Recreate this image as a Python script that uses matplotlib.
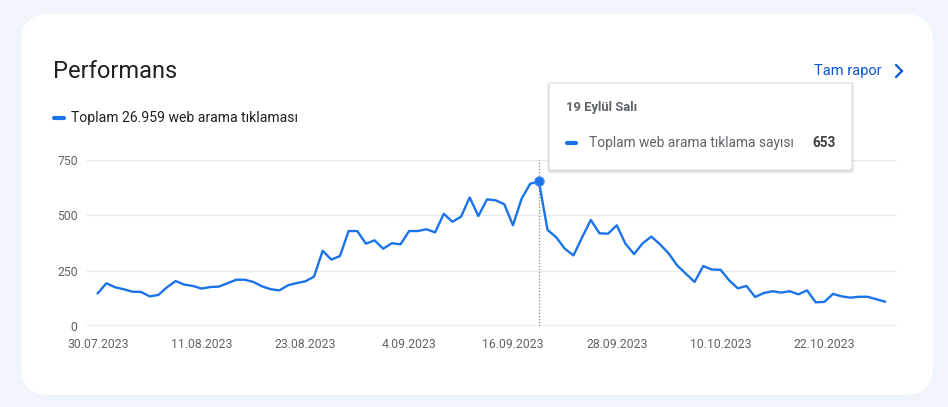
import matplotlib
matplotlib.use("Agg")
import matplotlib.pyplot as plt
from matplotlib.patches import FancyBboxPatch
import numpy as np

# ---- data ----
clicks = [148, 193, 175, 166, 155, 154, 134, 140, 175, 203,
          187, 181, 169, 176, 178, 193, 209, 209, 199, 179,
          166, 161, 184, 194, 202, 223, 340, 300, 316, 429,
          429, 372, 387, 349, 374, 369, 429, 429, 437, 423,
          507, 471, 494, 581, 497, 572, 568, 550, 455, 575,
          643, 653, 434, 401, 349, 319, 401, 479, 419, 417,
          455, 372, 325, 374, 404, 369, 328, 273, 236, 199,
          271, 255, 254, 206, 170, 181, 131, 149, 157, 151,
          157, 143, 161, 107, 109, 145, 134, 128, 132, 132,
          121, 110]
tick_pos = [0, 12, 24, 36, 48, 60, 72, 84]
tick_labels = ["30.07.2023", "11.08.2023", "23.08.2023", "4.09.2023",
               "16.09.2023", "28.09.2023", "10.10.2023", "22.10.2023"]
y_ticks = [0, 250, 500, 750]
title = "Performans"
legend_label = "Toplam 26.959 web arama tıklaması"
hover_index = 51
hover_date = "19 Eylül Salı"
hover_series = "Toplam web arama tıklama sayısı"

W, H = 948, 407
BLUE = "#1a73e8"
plt.rcParams['font.family'] = ['Roboto', 'DejaVu Sans']

fig = plt.figure(figsize=(W / 100, H / 100), dpi=100, facecolor="#f0f4fb")

# background pixel-space axes
bg = fig.add_axes([0, 0, 1, 1], zorder=0)
bg.set_xlim(0, W); bg.set_ylim(H, 0); bg.axis("off")
bg.add_patch(FancyBboxPatch((21, 14), 912, 381,
                            boxstyle="round,pad=0,rounding_size=28",
                            fc="white", ec="none"))
bg.text(53, 71, title, fontsize=17.0, color="#202124", va="center", ha="left")
bg.plot([54, 64], [118, 118], color=BLUE, lw=3, solid_capstyle="round")
bg.text(71, 118, legend_label, fontsize=10.1, color="#202124", va="center", ha="left")
bg.text(814, 71, "Tam rapor", fontsize=10.5, color="#0b57d0", va="center", ha="left")
bg.plot([896, 902, 896], [65, 71, 77], color="#0b57d0", lw=1.6,
        solid_capstyle="round", solid_joinstyle="miter")

# chart axes
left, right, top, bottom = 86, 897, 160, 326
ax = fig.add_axes([left / W, 1 - bottom / H, (right - left) / W, (bottom - top) / H], zorder=1)
ax.patch.set_alpha(0)
x = np.arange(len(clicks))
ax.set_xlim(-1.36, len(clicks) - 1 + 1.4)
ax.set_ylim(0, 750)
for yt in y_ticks[1:]:
    ax.axhline(yt, color="#e8eaed", lw=0.9, zorder=0)
ax.axhline(0, color="#9aa0a6", lw=1.0, zorder=1)
ax.plot(x, clicks, color=BLUE, lw=1.7, zorder=3, solid_joinstyle="round")
ax.axvline(hover_index, color="#80868b", lw=0.9, ls=(0, (1, 1.5)), zorder=2)
ax.plot([hover_index], [clicks[hover_index]], "o", ms=6.5, color=BLUE,
        mec="#4285f4", zorder=4)
for s in ax.spines.values():
    s.set_visible(False)
ax.set_yticks(y_ticks)
ax.set_yticklabels([str(v) for v in y_ticks])
ax.set_xticks(tick_pos)
ax.set_xticklabels(tick_labels)
ax.tick_params(axis="both", length=0, labelsize=8.8, labelcolor="#5f6368")
ax.tick_params(axis="y", pad=6)
ax.tick_params(axis="x", pad=9)

# tooltip overlay
ov = fig.add_axes([0, 0, 1, 1], zorder=2)
ov.set_xlim(0, W); ov.set_ylim(H, 0); ov.axis("off")
ov.patch.set_alpha(0)
for i, a in enumerate([0.04, 0.04, 0.05]):
    d = 3 - i
    ov.add_patch(FancyBboxPatch((549 - d + 0.5, 83 - d + 2), 303 + 2 * d - 1, 87 + 2 * d - 1,
                                boxstyle="round,pad=0,rounding_size=3",
                                fc="black", ec="none", alpha=a))
ov.add_patch(FancyBboxPatch((549, 83), 303, 87,
                            boxstyle="round,pad=0,rounding_size=2",
                            fc="white", ec="#dadce0", lw=0.8))
ov.text(566, 107, hover_date, fontsize=9.4, color="#5f6368", fontweight="bold",
        va="center", ha="left")
ov.plot([567, 576], [143, 143], color=BLUE, lw=3, solid_capstyle="round")
ov.text(589, 143, hover_series, fontsize=9.95, color="#5f6368", va="center", ha="left")
ov.text(836, 143, str(clicks[hover_index]), fontsize=9.8, color="#3c4043",
        fontweight="bold", va="center", ha="right")

fig.savefig("out.png", dpi=100, facecolor=fig.get_facecolor())
